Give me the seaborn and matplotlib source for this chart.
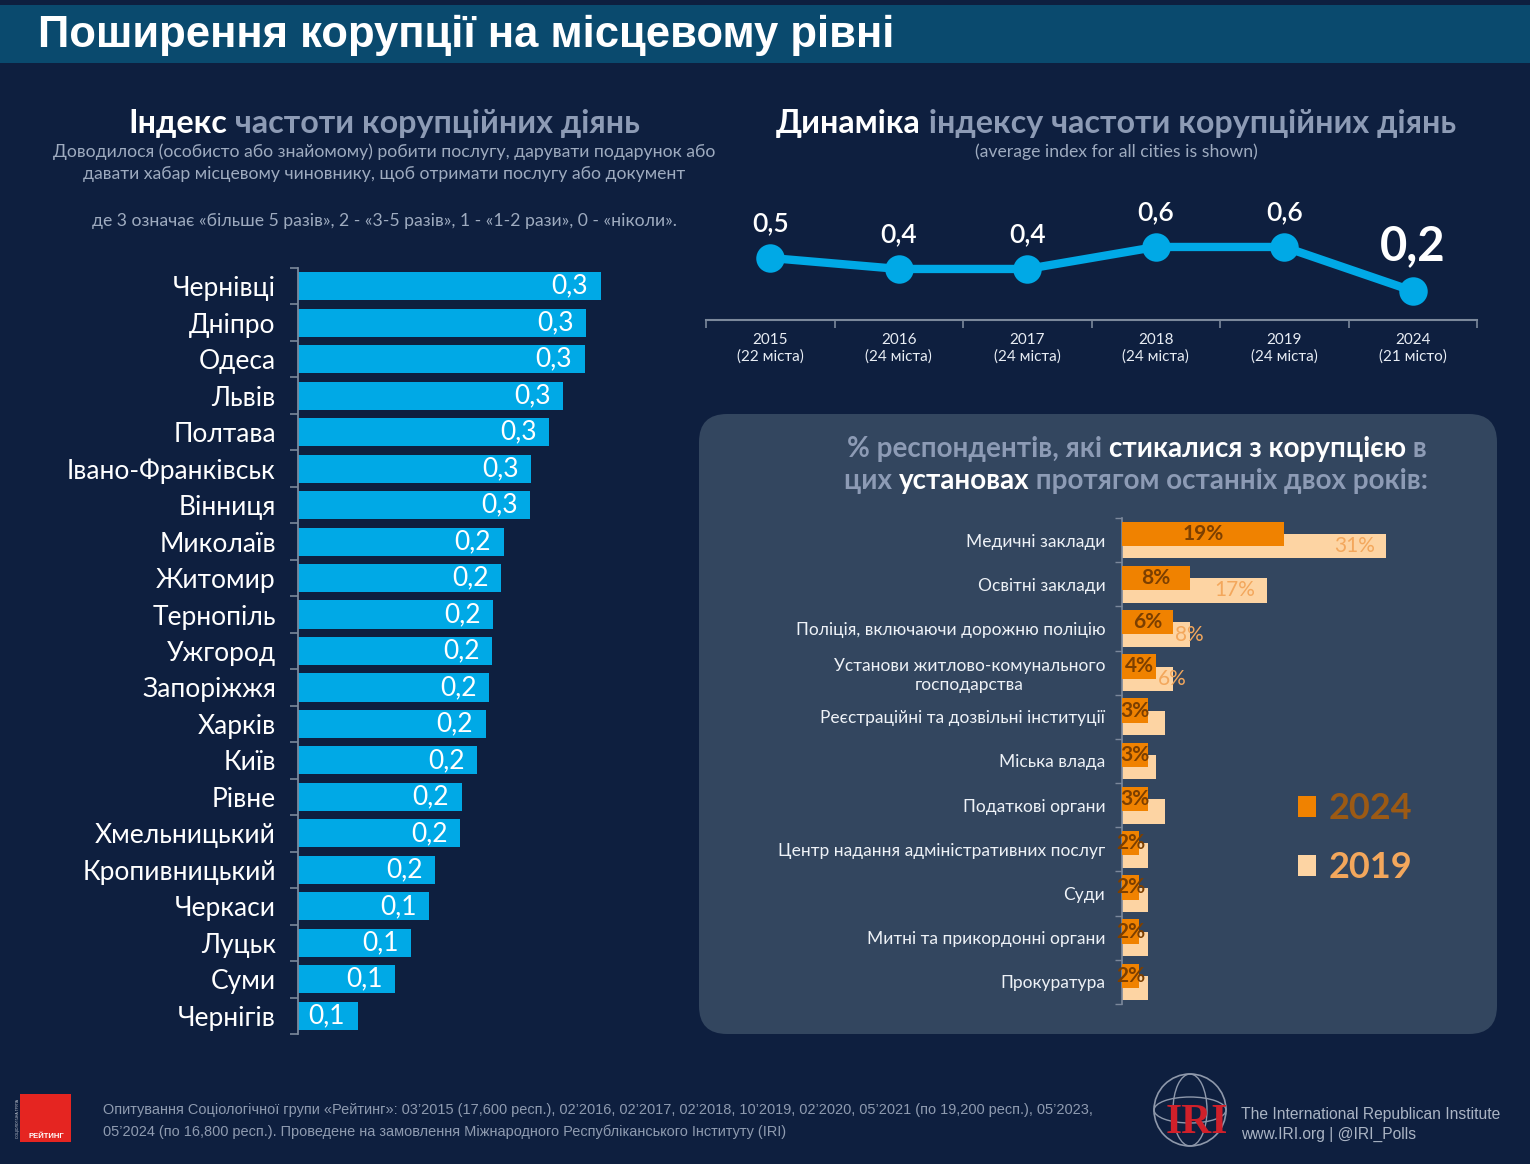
import numpy as np
import pandas as pd
import matplotlib
matplotlib.use("Agg")
import matplotlib.pyplot as plt
import seaborn as sns
from matplotlib.patches import FancyBboxPatch, Rectangle, Circle, Ellipse, Patch
from matplotlib import font_manager

# ---------------- data ----------------
cities = ["Чернівці", "Дніпро", "Одеса", "Львів", "Полтава", "Івано-Франківськ",
          "Вінниця", "Миколаїв", "Житомир", "Тернопіль", "Ужгород", "Запоріжжя",
          "Харків", "Київ", "Рівне", "Хмельницький", "Кропивницький", "Черкаси",
          "Луцьк", "Суми", "Чернігів"]
city_index = [0.340, 0.324, 0.322, 0.298, 0.282, 0.262, 0.261, 0.231, 0.228,
              0.219, 0.218, 0.215, 0.211, 0.201, 0.184, 0.182, 0.154, 0.147,
              0.127, 0.109, 0.067]

dyn_years = ["2015", "2016", "2017", "2018", "2019", "2024"]
dyn_cities = ["22 міста", "24 міста", "24 міста", "24 міста", "24 міста", "21 місто"]
dyn_index = [0.5, 0.4, 0.4, 0.6, 0.6, 0.2]

institutions = ["Медичні заклади", "Освітні заклади",
                "Поліція, включаючи дорожню поліцію",
                "Установи житлово-комунального\nгосподарства",
                "Реєстраційні та дозвільні інституції", "Міська влада",
                "Податкові органи", "Центр надання адміністративних послуг",
                "Суди", "Митні та прикордонні органи", "Прокуратура"]
share_2024 = [19, 8, 6, 4, 3, 3, 3, 2, 2, 2, 2]
share_2019 = [31, 17, 8, 6, 5, 4, 5, 3, 3, 3, 3]
survey_years = ["2024", "2019"]

# ---------------- style ----------------
W, H = 1530, 1164
BG = "#0e1f3f"
TITLEBAR = "#0a4a6e"
BLUE = "#00a9e6"
PANEL = "#33465f"
ORANGE = "#f08200"
PEACH = "#fdd4a3"
LABEL24 = "#7c3f00"
LABEL19 = "#f3a75c"
LEG24 = "#9c5a14"
GRAY = "#8d9bb5"
SUB = "#9eabbf"
AXIS = "#7b889b"
WHITE = "#ffffff"

sns.set_theme(style="ticks")


def has_bold(name):
    for f in font_manager.fontManager.ttflist:
        if f.name == name:
            w = f.weight
            if isinstance(w, str):
                if w in ("bold", "heavy", "black", "semibold", "demibold", "extra bold"):
                    return True
            elif w >= 600:
                return True
    return False


SANS = "DejaVu Sans"
for cand in ["Lato", "Open Sans", "Noto Sans", "Roboto"]:
    if has_bold(cand):
        SANS = cand
        break
FAM = [SANS, "DejaVu Sans"]
avail = {f.name for f in font_manager.fontManager.ttflist}
ARIAL = "Liberation Sans"
NARROW = "Liberation Sans Narrow" if "Liberation Sans Narrow" in avail else "Liberation Sans"
plt.rcParams["font.family"] = FAM

fig = plt.figure(figsize=(W / 100, H / 100), dpi=100, facecolor=BG)
renderer = fig.canvas.get_renderer()

bgax = fig.add_axes([0, 0, 1, 1])
bgax.set_xlim(0, W)
bgax.set_ylim(H, 0)
bgax.axis("off")
bgax.set_zorder(0)


def rect(x0, y0, x1, y1):
    return [x0 / W, 1 - y1 / H, (x1 - x0) / W, (y1 - y0) / H]


def measure(s, **kw):
    t1 = bgax.text(0, 0, "|" + s + "|", **kw)
    t2 = bgax.text(0, 0, "||", **kw)
    w = t1.get_window_extent(renderer).width - t2.get_window_extent(renderer).width
    t1.remove()
    t2.remove()
    return w


def rich(x, y, parts, size=12, width=None, ha="center", weight="bold", family=None, fitsize=None):
    family = family or FAM
    kw = dict(fontsize=size, fontweight=weight, family=family)
    if fitsize is not None:
        size = fitsize
    elif width is not None:
        ws = [measure(s, **kw) for s, _ in parts]
        size = size * width / sum(ws)
    kw["fontsize"] = size
    ws = [measure(s, **kw) for s, _ in parts]
    total = sum(ws)
    cur = x - total / 2 if ha == "center" else x
    for (s, c), w in zip(parts, ws):
        bgax.text(cur, y, s, color=c, va="center", ha="left", **kw)
        cur += w
    return size


# ---------------- background ----------------
bgax.add_patch(Rectangle((0, 5), W, 58, fc=TITLEBAR, ec="none"))
rich(38, 35, [("Поширення корупції на місцевому рівні", WHITE)], size=30,
     width=857, ha="left", family=[ARIAL])

bgax.add_patch(FancyBboxPatch((699, 414), 798, 620,
                              boxstyle="round,pad=0,rounding_size=28",
                              fc=PANEL, ec="none"))

# titles
rich(384, 123, [("Індекс", WHITE), (" частоти корупційних діянь", GRAY)], size=20, width=512)
rich(1116, 123, [("Динаміка", WHITE), (" індексу частоти корупційних діянь", GRAY)], size=20, width=680)
s_sub = rich(384, 152, [("Доводилося (особисто або знайомому) робити послугу, дарувати подарунок або", SUB)],
             size=11, width=663, weight="normal")
rich(384, 174, [("давати хабар місцевому чиновнику, щоб отримати послугу або документ", SUB)],
     fitsize=s_sub, weight="normal")
rich(384, 221, [("де 3 означає «більше 5 разів», 2 - «3-5 разів», 1 - «1-2 рази», 0 - «ніколи».", SUB)],
     fitsize=s_sub, weight="normal")
rich(1116, 152, [("(average index for all cities is shown)", SUB)], fitsize=s_sub, weight="normal")

s_p = rich(1137, 449, [("% респондентів, які ", GRAY), ("стикалися з корупцією", WHITE), (" в", GRAY)],
           size=16, width=580)
rich(1136, 481, [("цих ", GRAY), ("установах", WHITE), (" протягом останніх двох років:", GRAY)],
     fitsize=s_p)

# ---------------- left: city index bars ----------------
axL = fig.add_axes(rect(298, 268, 654, 1034))
axL.set_zorder(1)
axL.patch.set_alpha(0)
dfL = pd.DataFrame({"city": cities, "index": city_index})
sns.barplot(data=dfL, y="city", x="index", orient="h", color=BLUE, saturation=1,
            width=0.77, linewidth=0, edgecolor="none", ax=axL)
axL.set_xlim(0, 0.4)
city_labels = [f"{v:.1f}".replace(".", ",") for v in city_index]
anns = axL.bar_label(axL.containers[0], labels=city_labels, padding=-9, color=WHITE,
                     fontsize=19, family=FAM)
for a in anns:
    a.set_ha("right")
axL.set_xlabel("")
axL.set_ylabel("")
axL.set_xticks([])
for sp in ["top", "right", "bottom"]:
    axL.spines[sp].set_visible(False)
axL.spines["left"].set_color(AXIS)
axL.spines["left"].set_linewidth(1.3)
axL.set_yticks(np.arange(-0.5, len(cities), 1), minor=True)
axL.tick_params(axis="y", which="major", length=0, pad=16, labelsize=19, labelcolor=WHITE)
axL.tick_params(axis="y", which="minor", length=6, width=1.2, color=AXIS, direction="out")

# ---------------- top right: dynamics ----------------
axD = fig.add_axes(rect(706, 200, 1477, 320))
axD.set_zorder(1)
axD.patch.set_alpha(0)
dfD = pd.DataFrame({"year": dyn_years, "index": dyn_index})
sns.pointplot(data=dfD, x="year", y="index", color=BLUE, errorbar=None,
              markersize=16, linewidth=6, ax=axD)
axD.set_xlim(-0.5, len(dyn_years) - 0.5)
axD.set_ylim(-0.064, 1.027)
for i, v in enumerate(dyn_index):
    lab = f"{v:.1f}".replace(".", ",")
    if i == len(dyn_index) - 1:
        axD.annotate(lab, (i, v), xytext=(0, 32), textcoords="offset points",
                     ha="center", va="center", fontsize=34, fontweight="bold", color=WHITE)
    else:
        axD.annotate(lab, (i, v), xytext=(0, 25), textcoords="offset points",
                     ha="center", va="center", fontsize=19, fontweight="semibold", color=WHITE)
axD.set_xticks(range(len(dyn_years)),
               labels=[f"{y}\n({c})" for y, c in zip(dyn_years, dyn_cities)])
axD.set_xticks(np.arange(-0.5, len(dyn_years), 1), minor=True)
axD.tick_params(axis="x", which="major", length=0, pad=9.5, labelsize=11, labelcolor="#e8edf4")
axD.tick_params(axis="x", which="minor", length=6, width=1.2, color=AXIS, direction="out")
axD.set_yticks([])
axD.set_xlabel("")
axD.set_ylabel("")
for sp in ["top", "right", "left"]:
    axD.spines[sp].set_visible(False)
axD.spines["bottom"].set_color(AXIS)
axD.spines["bottom"].set_linewidth(1.5)

# ---------------- bottom right: institutions ----------------
axR = fig.add_axes(rect(1122, 518, 1420, 1004))
axR.set_zorder(1)
axR.patch.set_alpha(0)
dfR = pd.DataFrame({
    "inst": institutions * 2,
    "share": share_2024 + share_2019,
    "year": [survey_years[0]] * len(institutions) + [survey_years[1]] * len(institutions),
})
sns.barplot(data=dfR, y="inst", x="share", hue="year", hue_order=survey_years,
            palette=[ORANGE, PEACH], orient="h", width=0.56, dodge=True,
            saturation=1, legend=False, linewidth=0, edgecolor="none", ax=axR)
BAR_H = 0.55
for k, cont in enumerate(axR.containers):
    for p in cont.patches:
        cy = p.get_y() + p.get_height() / 2
        p.set_y(cy - BAR_H / 2)
        p.set_height(BAR_H)
        p.set_zorder(3 if k == 0 else 2)
axR.set_xlim(0, 35)
lab24 = [f"{v}%" for v in share_2024]
a24 = axR.bar_label(axR.containers[0], labels=lab24, label_type="center",
                    fontsize=15, fontweight="bold", color=LABEL24)
for a in a24:
    a.set_zorder(5)
lab19 = [f"{v}%" if v >= 6 else "" for v in share_2019]
a19 = axR.bar_label(axR.containers[1], labels=lab19, padding=-8,
                    fontsize=15, color=LABEL19)
px_per_unit = (1420 - 1122) / 35
for a, v24, v19 in zip(a19, share_2024, share_2019):
    a.set_zorder(5)
    if (v19 - v24) * px_per_unit < 45:
        # too little room beyond the 2024 bar: start right after it
        a.xy = (v24, a.xy[1])
        a.xyann = (1.5, 0)
        a.set_ha("left")
    else:
        a.set_ha("right")
axR.set_xlabel("")
axR.set_ylabel("")
axR.set_xticks([])
for sp in ["top", "right", "bottom"]:
    axR.spines[sp].set_visible(False)
axR.spines["left"].set_color(AXIS)
axR.spines["left"].set_linewidth(1.2)
axR.set_yticks(np.arange(-0.5, len(institutions), 1), minor=True)
axR.tick_params(axis="y", which="major", length=0, pad=12, labelsize=12.5, labelcolor="#eef2f7")
axR.tick_params(axis="y", which="minor", length=5, width=1.0, color=AXIS, direction="out")
for t in axR.get_yticklabels():
    t.set_multialignment("center")

leg = bgax.legend(handles=[Patch(fc=ORANGE, ec="none"), Patch(fc=PEACH, ec="none")],
                  labels=survey_years, labelcolor=[LEG24, LABEL19],
                  prop=dict(family=FAM, weight="bold", size=26), frameon=False,
                  loc="upper left", bbox_to_anchor=(1280 / W, 1 - 774 / H),
                  bbox_transform=fig.transFigure, handlelength=0.5, handleheight=0.5,
                  handletextpad=0.35, labelspacing=0.72, borderpad=0)

# ---------------- footer ----------------
bgax.add_patch(Rectangle((20, 1094), 51, 48, fc="#e52521", ec="none"))
bgax.text(46, 1136, "РЕЙТИНГ", color=WHITE, fontsize=5.5, fontweight="bold",
          ha="center", va="center", family=[ARIAL])
bgax.text(18, 1118, "СОЦІОЛОГІЧНА ГРУПА", color="#c8cdd6", fontsize=2.6, rotation=90,
          ha="center", va="center", family=[ARIAL])

s_f = rich(103, 1110, [("Опитування Соціологічної групи «Рейтинг»: 03’2015 (17,600 респ.), 02’2016, 02’2017, "
                        "02’2018, 10’2019, 02’2020, 05’2021 (по 19,200 респ.), 05’2023,", "#8f9bb0")],
           size=11, width=984, ha="left", weight="normal", family=[NARROW])
rich(103, 1132, [("05’2024 (по 16,800 респ.). Проведене на замовлення Міжнародного Республіканського "
                  "Інституту (IRI)", "#8f9bb0")], fitsize=s_f, ha="left", weight="normal", family=[NARROW])

gc = "#8e98ab"
bgax.add_patch(Circle((1190, 1110), 36, fill=False, ec=gc, lw=1.2))
bgax.add_patch(Ellipse((1190, 1110), 34, 72, fill=False, ec=gc, lw=1.0))
bgax.add_patch(Ellipse((1190, 1110), 72, 26, fill=False, ec=gc, lw=1.0))
bgax.text(1197, 1123, "IRI", color="#d0202a", fontsize=30, fontweight="bold",
          ha="center", va="center", family=["Liberation Serif", "DejaVu Serif"])
s_i = rich(1241, 1115, [("The International Republican Institute", "#aab4c4")], size=12,
           width=259, ha="left", weight="normal", family=[NARROW])
rich(1241, 1134, [("www.IRI.org | @IRI_Polls", "#aab4c4")], fitsize=s_i, ha="left",
     weight="normal", family=[NARROW])

fig.savefig("out.png", dpi=100, facecolor=BG)
